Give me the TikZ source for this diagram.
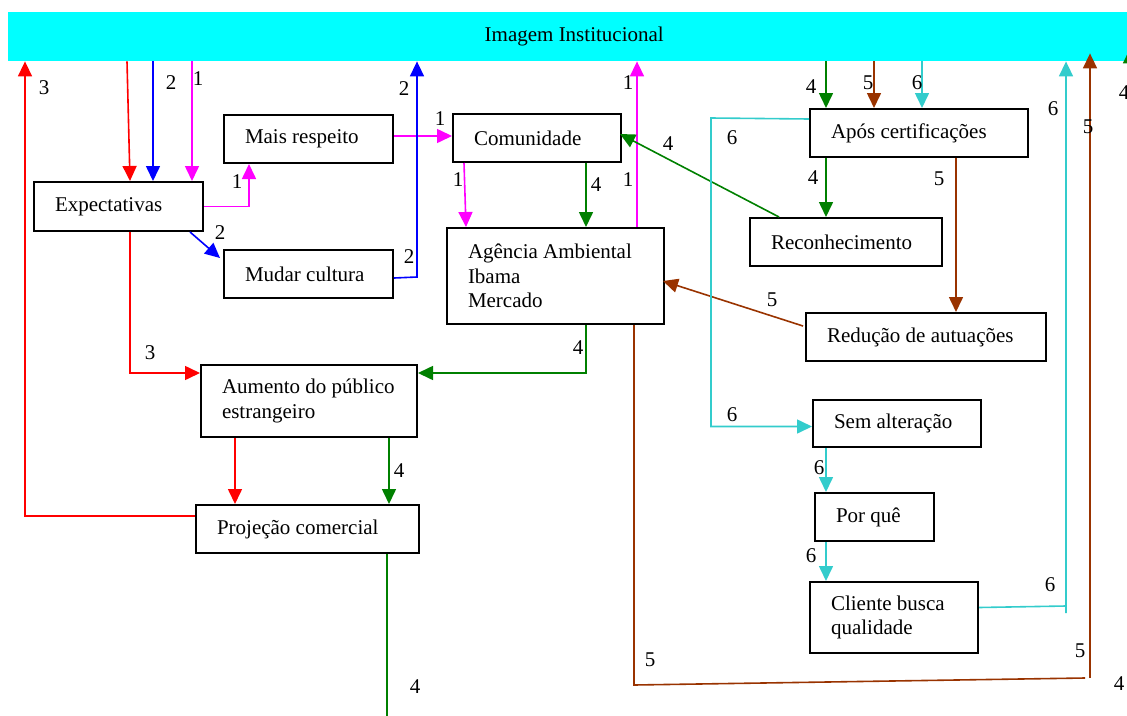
\documentclass[tikz,border=0pt]{standalone}
\usepackage{fontspec}
\setmainfont{Liberation Serif}
\usetikzlibrary{arrows.meta,calc}
\definecolor{barcyan}{HTML}{00FFFF}
\definecolor{lnred}{HTML}{FF0000}
\definecolor{lnblue}{HTML}{0000FF}
\definecolor{lnmag}{HTML}{FF00FF}
\definecolor{lngreen}{HTML}{008000}
\definecolor{lnbrown}{HTML}{993300}
\definecolor{lncyan}{HTML}{33CCCC}

\begin{document}
\begin{tikzpicture}[x=1pt,y=-1pt,
  font=\fontsize{21}{24.5}\selectfont,
  box/.style 2 args={draw, line width=2pt, anchor=north west, inner sep=0pt,
    minimum width=#1pt, minimum height=#2pt, text width=#1pt, align=left,
    execute at begin node={\leftskip=21pt\spaceskip=0pt\xspaceskip=0pt\relax}},
  flow/.style={line width=1.6pt, -{Triangle[length=15pt,width=14pt]}},
  plain/.style={line width=1.6pt},
  num/.style={inner sep=0pt, text=black},
]
\useasboundingbox (0,0) rectangle (1127,715);
\clip (0,0) rectangle (1127,715);

% title bar
\node[fill=barcyan, anchor=north west, inner sep=0pt, minimum width=1132pt,
      minimum height=49pt] (img) at (8,12) {Imagem Institucional};

% boxes
\node[box={169}{49}]  (exp)  at (33,181)  {Expectativas};
\node[box={169}{48}]  (mais) at (223,114) {Mais respeito};
\node[box={169}{48}]  (mud)  at (223,249) {Mudar cultura};
\node[box={168}{48}]  (com)  at (452,113) {Comunidade};
\node[box={217}{96}]  (age)  at (446,227) {Agência Ambiental\\Ibama\\Mercado};
\node[box={218}{48}]  (apos) at (809,108) {Após certificações};
\node[box={192}{48}]  (rec)  at (749,217) {Reconhecimento};
\node[box={240}{48}]  (red)  at (805,312) {Redução de autuações};
\node[box={168}{47}]  (sem)  at (812,399) {Sem alteração};
\node[box={119}{48}]  (pq)   at (814,492) {Por quê};
\node[box={168}{71}]  (cli)  at (809,581) {Cliente busca\\qualidade};
\node[box={216}{72}]  (aum)  at (200,364) {Aumento do público\\estrangeiro};
\node[box={223}{48}]  (proj) at (195,504) {Projeção comercial};

% path 1 (magenta)
\draw[flow,lnmag] (192,0 |- img.south) -- (192,0 |- exp.north);
\draw[flow,lnmag] (exp.east) -- (249,0 |- exp.east) -- (249,0 |- mais.south);
\draw[flow,lnmag] ([yshift=3pt]mais.east) -- ([yshift=3pt]mais.east -| com.west);
\draw[flow,lnmag] (464,0 |- com.south) -- (466,0 |- age.north);
\draw[flow,lnmag] (637,0 |- age.north) -- (637,0 |- img.south);

% path 2 (blue)
\draw[flow,lnblue] (153,0 |- img.south) -- (153,0 |- exp.north);
\draw[flow,lnblue] (190,0 |- exp.south) -- ([xshift=-3pt,yshift=-9pt]mud.north west);
\draw[flow,lnblue] ([yshift=-4pt]mud.east) -- (417,277) -- (417,0 |- img.south);

% path 3 (red)
\draw[flow,lnred] (127,0 |- img.south) -- (130,0 |- exp.north);
\draw[flow,lnred] (130,0 |- exp.south) -- (130,373) -- (aum.west |- 0,373);
\draw[flow,lnred] (235,0 |- aum.south) -- (235,0 |- proj.north);
\draw[flow,lnred] (proj.west |- 0,516) -- (25,516) -- (25,0 |- img.south);

% path 4 (green)
\draw[flow,lngreen] (826,0 |- img.south) -- (826,0 |- apos.north);
\draw[flow,lngreen] (826,0 |- apos.south) -- (826,0 |- rec.north);
\draw[flow,lngreen] (779,0 |- rec.north) -- ([xshift=-2pt,yshift=4pt]com.east);
\draw[flow,lngreen] (586,0 |- com.south) -- (586,0 |- age.north);
\draw[flow,lngreen] (586,0 |- age.south) -- (586,373) -- (aum.east |- 0,373);
\draw[flow,lngreen] (389,0 |- aum.south) -- (389,0 |- proj.north);
\draw[plain,lngreen] (387,0 |- proj.south) -- (387,725);
\coordinate (offg) at (1130,140);
\draw[flow,lngreen] (offg) -- ($(img.south -| offg)+(0,-13)$);

% path 5 (brown)
\draw[flow,lnbrown] (874,0 |- img.south) -- (874,0 |- apos.north);
\draw[flow,lnbrown] (956,0 |- apos.south) -- (956,0 |- red.north);
\draw[flow,lnbrown] ([xshift=-2pt,yshift=11pt]red.west) -- ([xshift=-2pt,yshift=-5pt]age.east);
\draw[plain,lnbrown] (634,0 |- age.south) -- (634,685) -- (1085,678);
\draw[flow,lnbrown] (1090,678) -- ($(img.south -| 1090,0)+(0,-8)$);

% path 6 (cyan)
\draw[flow,lncyan] (922,0 |- img.south) -- (922,0 |- apos.north);
\draw[flow,lncyan] ([yshift=14pt]apos.west) -- (711,118) |- ([yshift=-3pt]sem.west);
\draw[flow,lncyan] (826,0 |- sem.south) -- (826,0 |- pq.north);
\draw[flow,lncyan] (826,0 |- pq.south) -- (826,0 |- cli.north);
\draw[plain,lncyan] ([yshift=10pt]cli.east) -- (1066,606) -- (1066,613);
\draw[flow,lncyan] (1066,606) -- (1066,0 |- img.south);

% path numbers
\node[num] (n1)  at (44,88)    {3};
\node[num] (n2)  at (171,83)   {2};
\node[num] (n3)  at (198,79)   {1};
\node[num] (n4)  at (237,182)  {1};
\node[num] (n5)  at (220,233)  {2};
\node[num] (n6)  at (404,89)   {2};
\node[num] (n7)  at (409,257)  {2};
\node[num] (n8)  at (440,119)  {1};
\node[num] (n9)  at (458,180)  {1};
\node[num] (n10) at (596,185)  {4};
\node[num] (n11) at (628,180)  {1};
\node[num] (n12) at (628,83)   {1};
\node[num] (n13) at (668,144)  {4};
\node[num] (n14) at (732,138)  {6};
\node[num] (n15) at (811,87)   {4};
\node[num] (n16) at (868,83)   {5};
\node[num] (n17) at (917,83)   {6};
\node[num] (n18) at (813,178)  {4};
\node[num] (n19) at (939,179)  {5};
\node[num] (n20) at (772,300)  {5};
\node[num] (n21) at (1053,109) {6};
\node[num] (n22) at (1088,127) {5};
\node[num] (n23) at (1124,93)  {4};
\node[num] (n24) at (732,415)  {6};
\node[num] (n25) at (819,468)  {6};
\node[num] (n26) at (811,556)  {6};
\node[num] (n27) at (1050,585) {6};
\node[num] (n28) at (650,660)  {5};
\node[num] (n29) at (1080,651) {5};
\node[num] (n30) at (1119,684) {4};
\node[num] (n31) at (578,348)  {4};
\node[num] (n32) at (150,353)  {3};
\node[num] (n33) at (399,471)  {4};
\node[num] (n34) at (415,687)  {4};
\end{tikzpicture}
\end{document}
